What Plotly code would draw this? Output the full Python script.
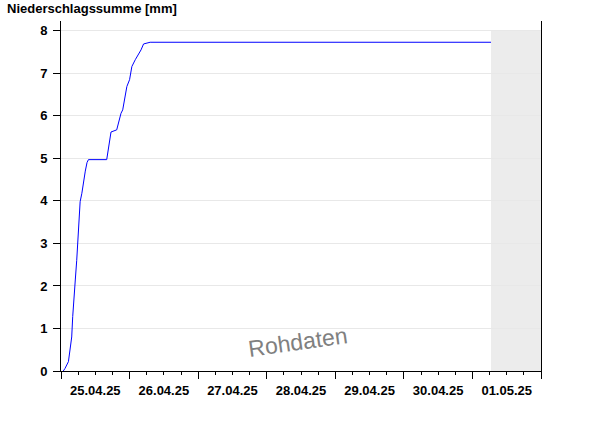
import plotly.graph_objects as go

times = [
    "2025-04-25 00:48", "2025-04-25 01:24", "2025-04-25 02:36", "2025-04-25 03:12",
    "2025-04-25 03:45", "2025-04-25 04:06", "2025-04-25 04:36", "2025-04-25 05:00",
    "2025-04-25 05:30", "2025-04-25 05:54", "2025-04-25 06:06", "2025-04-25 06:42",
    "2025-04-25 07:18", "2025-04-25 07:48", "2025-04-25 08:30", "2025-04-25 09:06",
    "2025-04-25 09:36", "2025-04-25 16:00", "2025-04-25 16:15", "2025-04-25 16:48",
    "2025-04-25 17:30", "2025-04-25 19:30", "2025-04-25 20:06", "2025-04-25 21:00",
    "2025-04-25 21:36", "2025-04-25 22:30", "2025-04-25 23:03", "2025-04-26 00:00",
    "2025-04-26 00:48", "2025-04-26 02:00", "2025-04-26 02:48", "2025-04-26 04:00",
    "2025-04-26 04:54", "2025-04-26 06:36", "2025-04-26 07:12", "2025-05-01 06:30",
]
values = [
    0.0, 0.06, 0.22, 0.5,
    0.8, 1.28, 1.67, 2.14,
    2.6, 3.0, 3.4, 3.98,
    4.18, 4.45, 4.7, 4.9,
    4.97, 4.97, 5.1, 5.39,
    5.62, 5.67, 5.83, 6.06,
    6.14, 6.53, 6.69, 6.85,
    7.16, 7.32, 7.4, 7.55,
    7.69, 7.71, 7.73, 7.73,
]

x_start = "2025-04-25 00:00"
x_end = "2025-05-02 00:00"
now_time = "2025-05-01 06:30"
y_top = 8.23
shade_top = 8.0

title_text = "Niederschlagssumme [mm]"
watermark = "Rohdaten"

fig = go.Figure()
fig.add_trace(go.Scatter(
    x=times, y=values, mode="lines",
    line=dict(color="#0000ff", width=1),
    hoverinfo="skip", showlegend=False,
))

fig.add_shape(type="rect", xref="x", yref="y", x0=now_time, x1=x_end,
              y0=0, y1=shade_top, fillcolor="#ececec", line_width=0, layer="below")

fig.add_annotation(text=title_text, xref="paper", yref="paper", x=-0.116, y=1.0,
                   xanchor="left", yanchor="bottom", yshift=3, showarrow=False,
                   font=dict(family="Liberation Sans", size=13, color="#000000", weight="bold"))

fig.add_annotation(text=watermark, xref="x", yref="y", x="2025-04-28 11:00", y=0.68,
                   showarrow=False, textangle=-8,
                   font=dict(family="Liberation Sans", size=23, color="#808080"))

fig.update_layout(
    width=600, height=426,
    margin=dict(l=61, r=59, t=21, b=55),
    paper_bgcolor="#ffffff", plot_bgcolor="#ffffff",
    font=dict(family="Liberation Sans", size=13, color="#000000"),
    xaxis=dict(
        type="date", range=[x_start, x_end],
        tickformat="%d.%m.%y", dtick=86400000, tick0=x_start,
        ticklabelmode="period", ticks="outside", ticklen=7, tickwidth=1,
        tickcolor="#000000", showgrid=False, zeroline=False,
        showline=True, linecolor="#000000", linewidth=1,
        tickfont=dict(family="Liberation Sans", size=13, color="#000000", weight="bold"),
        minor=dict(dtick=21600000, ticks="outside", ticklen=3, tickcolor="#000000", showgrid=False),
    ),
    yaxis=dict(
        range=[0, y_top], dtick=1, tick0=0,
        ticks="outside", ticklen=7, tickwidth=1, tickcolor="#000000",
        showgrid=True, gridcolor="#e8e8e8", gridwidth=1, zeroline=False,
        showline=True, linecolor="#000000", linewidth=1, mirror=True,
        ticklabelstandoff=3,
        tickfont=dict(family="Liberation Sans", size=13, color="#000000", weight="bold"),
    ),
)

fig.write_html("out.html", config={"displayModeBar": False},
               post_script="document.body.style.margin='0px';")
